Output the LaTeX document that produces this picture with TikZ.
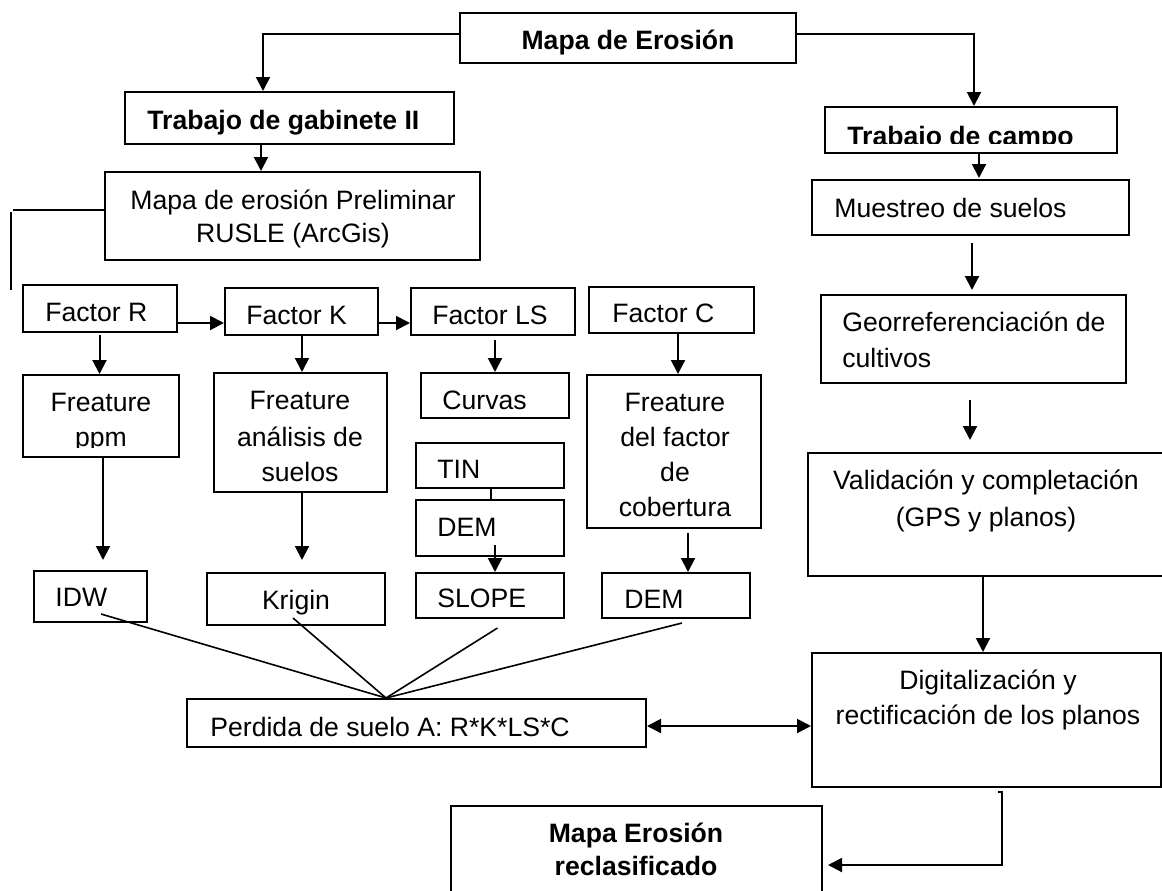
\documentclass[tikz,border=0pt]{standalone}
\usepackage{fontspec}
\setmainfont{Liberation Sans}
\usetikzlibrary{arrows.meta,fit,calc}
\newcommand\mybox[5]{\node[box, fit={(#2,#3)(#4,#5)}] (#1) {};}
\begin{document}
\begin{tikzpicture}[x=0.5pt,y=-0.5pt,
  box/.style={draw, line width=1pt, inner sep=0pt},
  ln/.style={line width=1pt},
  thin ln/.style={line width=0.8pt},
  arr/.style={line width=1pt, -{Triangle[length=7pt,width=7pt]}},
  dbl/.style={line width=1pt, {Triangle[length=7pt,width=7pt]}-{Triangle[length=7pt,width=7pt]}},
  txt/.style={inner sep=0pt, font=\fontsize{13.3}{16}\selectfont},
  btxt/.style={inner sep=0pt, font=\fontsize{13.3}{16}\selectfont\bfseries}]
\useasboundingbox (0,0) rectangle (1162,890);

% ---------- boxes ----------
\mybox{mapa}{460}{13}{796}{63}
\mybox{gab}{125}{92}{454}{144}
\mybox{prelim}{105}{172}{480}{260}
\mybox{campo}{825}{107}{1117}{153}
\mybox{muest}{812}{180}{1129}{235}
\mybox{geo}{821}{295}{1126}{383}
\mybox{valid}{808}{453}{1180}{576}
\mybox{digit}{812}{653}{1161}{787}
\mybox{reclas}{451}{806}{822}{900}
\mybox{fR}{23}{285}{177}{332}
\mybox{fK}{225}{288}{378}{335}
\mybox{fLS}{411}{288}{575}{335}
\mybox{fC}{589}{287}{754}{333}
\mybox{ppm}{23}{375}{179}{457}
\mybox{anal}{214}{373}{387}{492}
\mybox{curv}{421}{373}{569}{418}
\mybox{tin}{416}{443}{564}{488}
\mybox{demA}{416}{500}{564}{556}
\mybox{slope}{416}{573}{564}{618}
\mybox{cob}{587}{375}{761}{528}
\mybox{demB}{602}{573}{750}{618}
\mybox{idw}{34}{571}{147}{622}
\mybox{krig}{207}{573}{385}{625}
\mybox{perd}{187}{699}{646}{747}

% ---------- texts ----------
\node[btxt, anchor=base] (tmapa) at (628,49.5) {Mapa de Erosión};
\node[btxt, anchor=base west] (tgab) at (147,129.5) {Trabajo de gabinete II};
\begin{scope}
  \clip (826,108) rectangle (1116,143.5);
  \node[btxt, anchor=base west] (tcampo) at (847,145) {Trabajo de campo};
\end{scope}
\node[txt, anchor=base] (tprel1) at (293,209.5) {Mapa de erosión Preliminar};
\node[txt, anchor=base] (tprel2) at (293,242.5) {RUSLE (ArcGis)};
\node[txt, anchor=base west] (tmuest) at (834,217.5) {Muestreo de suelos};
\node[txt, anchor=base west] (tgeo1) at (842,331.5) {Georreferenciación de};
\node[txt, anchor=base west] (tgeo2) at (842,367.5) {cultivos};
\node[txt, anchor=base] (tval1) at (986,489.5) {Validación y completación};
\node[txt, anchor=base] (tval2) at (986,526.5) {(GPS y planos)};
\node[txt, anchor=base] (tdig1) at (988,689.5) {Digitalización y};
\node[txt, anchor=base] (tdig2) at (988,724.5) {rectificación de los planos};
\node[btxt, anchor=base] (trec1) at (636,842.5) {Mapa Erosión};
\node[btxt, anchor=base] (trec2) at (636,875.5) {reclasificado};

\node[txt, anchor=base west] (tfR) at (45,321.5) {Factor R};
\node[txt, anchor=base west] (tfK) at (246,324.5) {Factor K};
\node[txt, anchor=base west] (tfLS) at (432,324.5) {Factor LS};
\node[txt, anchor=base west] (tfC) at (612,322) {Factor C};

\node[txt, anchor=base] (tppm1) at (101,411.5) {Freature};
\begin{scope}
  \clip (24,376) rectangle (178,447.5);
  \node[txt, anchor=base] (tppm2) at (101,446) {ppm};
\end{scope}
\node[txt, anchor=base] (tan1) at (300,409.5) {Freature};
\node[txt, anchor=base] (tan2) at (300,446.5) {análisis de};
\node[txt, anchor=base] (tan3) at (300,481.5) {suelos};
\node[txt, anchor=base west] (tcurv) at (442,409.5) {Curvas};
\node[txt, anchor=base west] (ttin) at (437,478.5) {TIN};
\node[txt, anchor=base west] (tdemA) at (437,536.5) {DEM};
\node[txt, anchor=base west] (tslope) at (437,607.5) {SLOPE};
\node[txt, anchor=base] (tcob1) at (675,411.5) {Freature};
\node[txt, anchor=base] (tcob2) at (675,446.5) {del factor};
\node[txt, anchor=base] (tcob3) at (675,481.5) {de};
\node[txt, anchor=base] (tcob4) at (675,516.5) {cobertura};
\node[txt, anchor=base west] (tdemB) at (624,608.5) {DEM};
\node[txt, anchor=base west] (tidw) at (55,606.5) {IDW};
\node[txt, anchor=base] (tkrig) at (296,609.5) {Krigin};
\node[txt, anchor=base west] (tperd) at (210,736.5) {Perdida de suelo A: R*K*LS*C};

% ---------- connectors ----------
\draw[arr] (mapa.west |- 0,34) -| (263,0 |- gab.north);
\draw[arr] (mapa.east |- 0,34) -| (974,0 |- campo.north);
\draw[arr] (261,0 |- gab.south) -- (261,0 |- prelim.north);
\coordinate (pl1) at (13,210);
\coordinate (pl2) at (11,212);
\coordinate (pl3) at (11,290);
\draw[ln] (prelim.west |- pl1) -- (pl1);
\draw[ln] (pl2) -- (pl3);

\coordinate (ca1) at (979,178);
\draw[arr] (979,0 |- campo.south) -- (ca1);
\coordinate (mu1) at (972,243);
\coordinate (mu2) at (972,290);
\draw[arr] (mu1) -- (mu2);
\coordinate (ge1) at (970,400);
\coordinate (ge2) at (970,440);
\draw[arr] (ge1) -- (ge2);
\draw[arr] (983,0 |- valid.south) -- (983,0 |- digit.north);
\coordinate (di1) at (998,792);
\coordinate (di2) at (1002,792);
\coordinate (di3) at (1002,865);
\draw[arr] (di1) -- (di2) -- (di3) -- ($(reclas.east |- di3)+(5,0)$);
\draw[dbl] (perd.east |- 0,726) -- (digit.west |- 0,726);

\draw[arr] (fR.east |- 0,323) -- (fK.west |- 0,323);
\draw[arr] (fK.east |- 0,323) -- (fLS.west |- 0,323);
\draw[arr] (99.5,335) -- (99.5,0 |- ppm.north);
\coordinate (pp1) at (103,560);
\draw[arr] (103,0 |- ppm.south) -- (pp1);
\draw[arr] (302,0 |- fK.south) -- (302,0 |- anal.north);
\coordinate (an1) at (302,560);
\draw[arr] (302,0 |- anal.south) -- (an1);
\coordinate (ls1) at (495,340);
\draw[arr] (ls1) -- (495,0 |- curv.north);
\draw[ln] (491,0 |- tin.south) -- (491,0 |- demA.north);
\coordinate (dm1) at (495,545);
\draw[arr] (dm1) -- (495,0 |- slope.north);
\draw[arr] (678,0 |- fC.south) -- (678,0 |- cob.north);
\coordinate (co1) at (688,533);
\draw[arr] (co1) -- (688,0 |- demB.north);

\coordinate (cv) at (386,0 |- perd.north);
\coordinate (s1) at (101,614);
\coordinate (s2) at (293,618);
\coordinate (s3) at (497.5,628);
\coordinate (s4) at (682,623);
\draw[thin ln] (s1) -- (cv);
\draw[thin ln] (s2) -- (cv);
\draw[thin ln] (s3) -- (cv);
\draw[thin ln] (s4) -- (cv);
\end{tikzpicture}
\end{document}
